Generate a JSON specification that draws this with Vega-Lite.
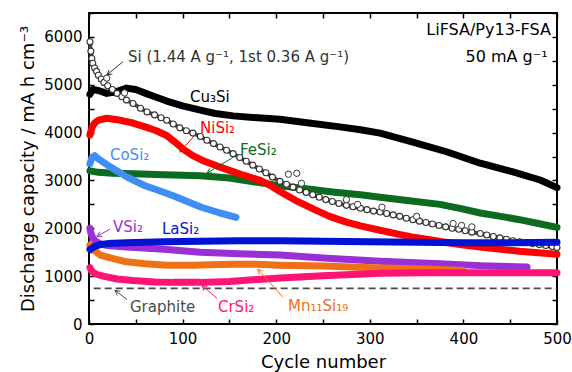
{
  "$schema": "https://vega.github.io/schema/vega-lite/v6.json",
  "width": 468,
  "height": 311,
  "autosize": {"type": "none"},
  "padding": {"left": 89, "top": 13, "right": 15, "bottom": 48},
  "background": "white",
  "config": {
    "view": {"stroke": "black", "strokeWidth": 2},
    "axis": {
      "grid": false, "domain": false, "tickColor": "black", "tickWidth": 1.5, "tickSize": -5, "labelFlush": false,
      "labelFont": "DejaVu Sans", "labelFontSize": 15, "labelColor": "black",
      "titleFont": "DejaVu Sans", "titleFontSize": 18, "titleFontWeight": "normal", "titleColor": "black"
    },
    "text": {"font": "DejaVu Sans"}
  },
  "datasets": {
    "curves": [
      {"series": "Cu₃Si", "cycle": 1, "capacity": 4800},
      {"series": "Cu₃Si", "cycle": 4, "capacity": 4900},
      {"series": "Cu₃Si", "cycle": 10, "capacity": 4880},
      {"series": "Cu₃Si", "cycle": 19, "capacity": 4820},
      {"series": "Cu₃Si", "cycle": 28, "capacity": 4850},
      {"series": "Cu₃Si", "cycle": 40, "capacity": 4930},
      {"series": "Cu₃Si", "cycle": 50, "capacity": 4900},
      {"series": "Cu₃Si", "cycle": 62, "capacity": 4810},
      {"series": "Cu₃Si", "cycle": 72, "capacity": 4740},
      {"series": "Cu₃Si", "cycle": 83, "capacity": 4660},
      {"series": "Cu₃Si", "cycle": 100, "capacity": 4560},
      {"series": "Cu₃Si", "cycle": 119, "capacity": 4470},
      {"series": "Cu₃Si", "cycle": 135, "capacity": 4400},
      {"series": "Cu₃Si", "cycle": 154, "capacity": 4350},
      {"series": "Cu₃Si", "cycle": 180, "capacity": 4310},
      {"series": "Cu₃Si", "cycle": 204, "capacity": 4280},
      {"series": "Cu₃Si", "cycle": 235, "capacity": 4200},
      {"series": "Cu₃Si", "cycle": 268, "capacity": 4120},
      {"series": "Cu₃Si", "cycle": 290, "capacity": 4060},
      {"series": "Cu₃Si", "cycle": 311, "capacity": 3990},
      {"series": "Cu₃Si", "cycle": 346, "capacity": 3800},
      {"series": "Cu₃Si", "cycle": 382, "capacity": 3600},
      {"series": "Cu₃Si", "cycle": 418, "capacity": 3360},
      {"series": "Cu₃Si", "cycle": 453, "capacity": 3180},
      {"series": "Cu₃Si", "cycle": 482, "capacity": 3010},
      {"series": "Cu₃Si", "cycle": 500, "capacity": 2850},

      {"series": "FeSi₂", "cycle": 1, "capacity": 3200},
      {"series": "FeSi₂", "cycle": 10, "capacity": 3170},
      {"series": "FeSi₂", "cycle": 25, "capacity": 3150},
      {"series": "FeSi₂", "cycle": 47, "capacity": 3140},
      {"series": "FeSi₂", "cycle": 80, "capacity": 3120},
      {"series": "FeSi₂", "cycle": 119, "capacity": 3100},
      {"series": "FeSi₂", "cycle": 150, "capacity": 3050},
      {"series": "FeSi₂", "cycle": 180, "capacity": 2960},
      {"series": "FeSi₂", "cycle": 204, "capacity": 2890},
      {"series": "FeSi₂", "cycle": 230, "capacity": 2830},
      {"series": "FeSi₂", "cycle": 260, "capacity": 2760},
      {"series": "FeSi₂", "cycle": 290, "capacity": 2700},
      {"series": "FeSi₂", "cycle": 311, "capacity": 2650},
      {"series": "FeSi₂", "cycle": 340, "capacity": 2580},
      {"series": "FeSi₂", "cycle": 375, "capacity": 2500},
      {"series": "FeSi₂", "cycle": 400, "capacity": 2400},
      {"series": "FeSi₂", "cycle": 418, "capacity": 2320},
      {"series": "FeSi₂", "cycle": 440, "capacity": 2250},
      {"series": "FeSi₂", "cycle": 460, "capacity": 2180},
      {"series": "FeSi₂", "cycle": 480, "capacity": 2100},
      {"series": "FeSi₂", "cycle": 500, "capacity": 2020},

      {"series": "NiSi₂", "cycle": 1, "capacity": 3950},
      {"series": "NiSi₂", "cycle": 3, "capacity": 4100},
      {"series": "NiSi₂", "cycle": 6, "capacity": 4200},
      {"series": "NiSi₂", "cycle": 10, "capacity": 4260},
      {"series": "NiSi₂", "cycle": 19, "capacity": 4300},
      {"series": "NiSi₂", "cycle": 30, "capacity": 4270},
      {"series": "NiSi₂", "cycle": 47, "capacity": 4200},
      {"series": "NiSi₂", "cycle": 60, "capacity": 4120},
      {"series": "NiSi₂", "cycle": 72, "capacity": 4040},
      {"series": "NiSi₂", "cycle": 83, "capacity": 3940},
      {"series": "NiSi₂", "cycle": 92, "capacity": 3800},
      {"series": "NiSi₂", "cycle": 101, "capacity": 3650},
      {"series": "NiSi₂", "cycle": 110, "capacity": 3530},
      {"series": "NiSi₂", "cycle": 120, "capacity": 3430},
      {"series": "NiSi₂", "cycle": 137, "capacity": 3300},
      {"series": "NiSi₂", "cycle": 150, "capacity": 3210},
      {"series": "NiSi₂", "cycle": 165, "capacity": 3110},
      {"series": "NiSi₂", "cycle": 183, "capacity": 3000},
      {"series": "NiSi₂", "cycle": 195, "capacity": 2880},
      {"series": "NiSi₂", "cycle": 204, "capacity": 2770},
      {"series": "NiSi₂", "cycle": 220, "capacity": 2590},
      {"series": "NiSi₂", "cycle": 240, "capacity": 2400},
      {"series": "NiSi₂", "cycle": 257, "capacity": 2250},
      {"series": "NiSi₂", "cycle": 275, "capacity": 2130},
      {"series": "NiSi₂", "cycle": 290, "capacity": 2050},
      {"series": "NiSi₂", "cycle": 311, "capacity": 1960},
      {"series": "NiSi₂", "cycle": 330, "capacity": 1880},
      {"series": "NiSi₂", "cycle": 345, "capacity": 1820},
      {"series": "NiSi₂", "cycle": 364, "capacity": 1760},
      {"series": "NiSi₂", "cycle": 380, "capacity": 1710},
      {"series": "NiSi₂", "cycle": 400, "capacity": 1650},
      {"series": "NiSi₂", "cycle": 418, "capacity": 1610},
      {"series": "NiSi₂", "cycle": 440, "capacity": 1560},
      {"series": "NiSi₂", "cycle": 460, "capacity": 1520},
      {"series": "NiSi₂", "cycle": 480, "capacity": 1490},
      {"series": "NiSi₂", "cycle": 500, "capacity": 1460},

      {"series": "CoSi₂", "cycle": 1, "capacity": 3350},
      {"series": "CoSi₂", "cycle": 3, "capacity": 3470},
      {"series": "CoSi₂", "cycle": 6, "capacity": 3520},
      {"series": "CoSi₂", "cycle": 10, "capacity": 3450},
      {"series": "CoSi₂", "cycle": 20, "capacity": 3320},
      {"series": "CoSi₂", "cycle": 30, "capacity": 3200},
      {"series": "CoSi₂", "cycle": 40, "capacity": 3080},
      {"series": "CoSi₂", "cycle": 50, "capacity": 2980},
      {"series": "CoSi₂", "cycle": 60, "capacity": 2890},
      {"series": "CoSi₂", "cycle": 76, "capacity": 2780},
      {"series": "CoSi₂", "cycle": 90, "capacity": 2680},
      {"series": "CoSi₂", "cycle": 101, "capacity": 2590},
      {"series": "CoSi₂", "cycle": 120, "capacity": 2440},
      {"series": "CoSi₂", "cycle": 140, "capacity": 2320},
      {"series": "CoSi₂", "cycle": 157, "capacity": 2230},

      {"series": "VSi₂", "cycle": 1, "capacity": 2000},
      {"series": "VSi₂", "cycle": 2, "capacity": 1900},
      {"series": "VSi₂", "cycle": 4, "capacity": 1800},
      {"series": "VSi₂", "cycle": 7, "capacity": 1730},
      {"series": "VSi₂", "cycle": 12, "capacity": 1670},
      {"series": "VSi₂", "cycle": 20, "capacity": 1640},
      {"series": "VSi₂", "cycle": 40, "capacity": 1610},
      {"series": "VSi₂", "cycle": 80, "capacity": 1560},
      {"series": "VSi₂", "cycle": 119, "capacity": 1500},
      {"series": "VSi₂", "cycle": 160, "capacity": 1470},
      {"series": "VSi₂", "cycle": 204, "capacity": 1440},
      {"series": "VSi₂", "cycle": 250, "capacity": 1380},
      {"series": "VSi₂", "cycle": 311, "capacity": 1310},
      {"series": "VSi₂", "cycle": 375, "capacity": 1260},
      {"series": "VSi₂", "cycle": 418, "capacity": 1220},
      {"series": "VSi₂", "cycle": 468, "capacity": 1190},

      {"series": "Mn₁₁Si₁₉", "cycle": 1, "capacity": 1650},
      {"series": "Mn₁₁Si₁₉", "cycle": 5, "capacity": 1550},
      {"series": "Mn₁₁Si₁₉", "cycle": 12, "capacity": 1440},
      {"series": "Mn₁₁Si₁₉", "cycle": 25, "capacity": 1370},
      {"series": "Mn₁₁Si₁₉", "cycle": 40, "capacity": 1300},
      {"series": "Mn₁₁Si₁₉", "cycle": 60, "capacity": 1260},
      {"series": "Mn₁₁Si₁₉", "cycle": 83, "capacity": 1230},
      {"series": "Mn₁₁Si₁₉", "cycle": 110, "capacity": 1230},
      {"series": "Mn₁₁Si₁₉", "cycle": 130, "capacity": 1240},
      {"series": "Mn₁₁Si₁₉", "cycle": 154, "capacity": 1250},
      {"series": "Mn₁₁Si₁₉", "cycle": 180, "capacity": 1250},
      {"series": "Mn₁₁Si₁₉", "cycle": 204, "capacity": 1230},
      {"series": "Mn₁₁Si₁₉", "cycle": 250, "capacity": 1210},
      {"series": "Mn₁₁Si₁₉", "cycle": 311, "capacity": 1170},
      {"series": "Mn₁₁Si₁₉", "cycle": 360, "capacity": 1150},
      {"series": "Mn₁₁Si₁₉", "cycle": 400, "capacity": 1120},

      {"series": "CrSi₂", "cycle": 1, "capacity": 1180},
      {"series": "CrSi₂", "cycle": 3, "capacity": 1100},
      {"series": "CrSi₂", "cycle": 8, "capacity": 1040},
      {"series": "CrSi₂", "cycle": 15, "capacity": 1000},
      {"series": "CrSi₂", "cycle": 30, "capacity": 940},
      {"series": "CrSi₂", "cycle": 47, "capacity": 910},
      {"series": "CrSi₂", "cycle": 70, "capacity": 880},
      {"series": "CrSi₂", "cycle": 90, "capacity": 870},
      {"series": "CrSi₂", "cycle": 119, "capacity": 870},
      {"series": "CrSi₂", "cycle": 150, "capacity": 890},
      {"series": "CrSi₂", "cycle": 180, "capacity": 930},
      {"series": "CrSi₂", "cycle": 204, "capacity": 960},
      {"series": "CrSi₂", "cycle": 250, "capacity": 1010},
      {"series": "CrSi₂", "cycle": 311, "capacity": 1060},
      {"series": "CrSi₂", "cycle": 360, "capacity": 1070},
      {"series": "CrSi₂", "cycle": 400, "capacity": 1070},
      {"series": "CrSi₂", "cycle": 450, "capacity": 1070},
      {"series": "CrSi₂", "cycle": 500, "capacity": 1070},

      {"series": "LaSi₂", "cycle": 1, "capacity": 1560},
      {"series": "LaSi₂", "cycle": 3, "capacity": 1580},
      {"series": "LaSi₂", "cycle": 6, "capacity": 1620},
      {"series": "LaSi₂", "cycle": 12, "capacity": 1660},
      {"series": "LaSi₂", "cycle": 20, "capacity": 1680},
      {"series": "LaSi₂", "cycle": 40, "capacity": 1700},
      {"series": "LaSi₂", "cycle": 80, "capacity": 1720},
      {"series": "LaSi₂", "cycle": 119, "capacity": 1730},
      {"series": "LaSi₂", "cycle": 160, "capacity": 1740},
      {"series": "LaSi₂", "cycle": 204, "capacity": 1740},
      {"series": "LaSi₂", "cycle": 250, "capacity": 1730},
      {"series": "LaSi₂", "cycle": 300, "capacity": 1720},
      {"series": "LaSi₂", "cycle": 350, "capacity": 1710},
      {"series": "LaSi₂", "cycle": 400, "capacity": 1700},
      {"series": "LaSi₂", "cycle": 450, "capacity": 1700},
      {"series": "LaSi₂", "cycle": 500, "capacity": 1710}
    ],
    "si": [
      {"series": "Si", "cycle": 1, "capacity": 5900},
      {"series": "Si", "cycle": 2, "capacity": 5700},
      {"series": "Si", "cycle": 3, "capacity": 5550},
      {"series": "Si", "cycle": 4, "capacity": 5450},
      {"series": "Si", "cycle": 6, "capacity": 5350},
      {"series": "Si", "cycle": 8, "capacity": 5280},
      {"series": "Si", "cycle": 10, "capacity": 5200},
      {"series": "Si", "cycle": 13, "capacity": 5120},
      {"series": "Si", "cycle": 16, "capacity": 5050},
      {"series": "Si", "cycle": 20, "capacity": 4980},
      {"series": "Si", "cycle": 25, "capacity": 4900},
      {"series": "Si", "cycle": 30, "capacity": 4820},
      {"series": "Si", "cycle": 35, "capacity": 4750},
      {"series": "Si", "cycle": 40, "capacity": 4680},
      {"series": "Si", "cycle": 47, "capacity": 4610},
      {"series": "Si", "cycle": 55, "capacity": 4510},
      {"series": "Si", "cycle": 62, "capacity": 4430},
      {"series": "Si", "cycle": 70, "capacity": 4370},
      {"series": "Si", "cycle": 77, "capacity": 4310},
      {"series": "Si", "cycle": 83, "capacity": 4260},
      {"series": "Si", "cycle": 90, "capacity": 4180},
      {"series": "Si", "cycle": 97, "capacity": 4100},
      {"series": "Si", "cycle": 104, "capacity": 4040},
      {"series": "Si", "cycle": 111, "capacity": 3990},
      {"series": "Si", "cycle": 119, "capacity": 3920},
      {"series": "Si", "cycle": 126, "capacity": 3840},
      {"series": "Si", "cycle": 133, "capacity": 3770},
      {"series": "Si", "cycle": 140, "capacity": 3700},
      {"series": "Si", "cycle": 147, "capacity": 3630},
      {"series": "Si", "cycle": 154, "capacity": 3560},
      {"series": "Si", "cycle": 161, "capacity": 3480},
      {"series": "Si", "cycle": 168, "capacity": 3400},
      {"series": "Si", "cycle": 175, "capacity": 3320},
      {"series": "Si", "cycle": 182, "capacity": 3240},
      {"series": "Si", "cycle": 189, "capacity": 3160},
      {"series": "Si", "cycle": 196, "capacity": 3070},
      {"series": "Si", "cycle": 204, "capacity": 2980},
      {"series": "Si", "cycle": 211, "capacity": 2920},
      {"series": "Si", "cycle": 218, "capacity": 2860},
      {"series": "Si", "cycle": 225, "capacity": 2800},
      {"series": "Si", "cycle": 232, "capacity": 2750},
      {"series": "Si", "cycle": 239, "capacity": 2700},
      {"series": "Si", "cycle": 246, "capacity": 2650},
      {"series": "Si", "cycle": 253, "capacity": 2600},
      {"series": "Si", "cycle": 260, "capacity": 2560},
      {"series": "Si", "cycle": 267, "capacity": 2520},
      {"series": "Si", "cycle": 275, "capacity": 2480},
      {"series": "Si", "cycle": 282, "capacity": 2450},
      {"series": "Si", "cycle": 290, "capacity": 2420},
      {"series": "Si", "cycle": 297, "capacity": 2390},
      {"series": "Si", "cycle": 304, "capacity": 2360},
      {"series": "Si", "cycle": 311, "capacity": 2340},
      {"series": "Si", "cycle": 318, "capacity": 2310},
      {"series": "Si", "cycle": 325, "capacity": 2280},
      {"series": "Si", "cycle": 332, "capacity": 2250},
      {"series": "Si", "cycle": 339, "capacity": 2210},
      {"series": "Si", "cycle": 346, "capacity": 2180},
      {"series": "Si", "cycle": 353, "capacity": 2150},
      {"series": "Si", "cycle": 360, "capacity": 2120},
      {"series": "Si", "cycle": 367, "capacity": 2090},
      {"series": "Si", "cycle": 374, "capacity": 2060},
      {"series": "Si", "cycle": 381, "capacity": 2030},
      {"series": "Si", "cycle": 388, "capacity": 2000},
      {"series": "Si", "cycle": 395, "capacity": 1980},
      {"series": "Si", "cycle": 402, "capacity": 1950},
      {"series": "Si", "cycle": 409, "capacity": 1920},
      {"series": "Si", "cycle": 418, "capacity": 1890},
      {"series": "Si", "cycle": 425, "capacity": 1860},
      {"series": "Si", "cycle": 432, "capacity": 1830},
      {"series": "Si", "cycle": 439, "capacity": 1800},
      {"series": "Si", "cycle": 446, "capacity": 1770},
      {"series": "Si", "cycle": 453, "capacity": 1740},
      {"series": "Si", "cycle": 460, "capacity": 1720},
      {"series": "Si", "cycle": 467, "capacity": 1700},
      {"series": "Si", "cycle": 474, "capacity": 1680},
      {"series": "Si", "cycle": 481, "capacity": 1660},
      {"series": "Si", "cycle": 488, "capacity": 1640},
      {"series": "Si", "cycle": 495, "capacity": 1620},
      {"series": "Si", "cycle": 500, "capacity": 1600}
    ],
    "siOutliers": [
      {"series": "Si", "cycle": 19, "capacity": 5140},
      {"series": "Si", "cycle": 38, "capacity": 4830},
      {"series": "Si", "cycle": 213, "capacity": 3130},
      {"series": "Si", "cycle": 222, "capacity": 3150},
      {"series": "Si", "cycle": 227, "capacity": 2940},
      {"series": "Si", "cycle": 275, "capacity": 2600},
      {"series": "Si", "cycle": 287, "capacity": 2500},
      {"series": "Si", "cycle": 313, "capacity": 2440},
      {"series": "Si", "cycle": 350, "capacity": 2250},
      {"series": "Si", "cycle": 389, "capacity": 2100},
      {"series": "Si", "cycle": 398, "capacity": 2060},
      {"series": "Si", "cycle": 409, "capacity": 2030}
    ],
    "labels": [
      {"series": "Si", "cycle": 41.7, "capacity": 5586, "text": "Si (1.44 A g⁻¹, 1st 0.36 A g⁻¹)"},
      {"series": "Cu₃Si", "cycle": 107.9, "capacity": 4747, "text": "Cu₃Si"},
      {"series": "NiSi₂", "cycle": 118.6, "capacity": 4098, "text": "NiSi₂"},
      {"series": "FeSi₂", "cycle": 161.3, "capacity": 3637, "text": "FeSi₂"},
      {"series": "CoSi₂", "cycle": 22.4, "capacity": 3532, "text": "CoSi₂"},
      {"series": "VSi₂", "cycle": 25.6, "capacity": 2023, "text": "VSi₂"},
      {"series": "LaSi₂", "cycle": 78, "capacity": 1981, "text": "LaSi₂"},
      {"series": "Graphite", "cycle": 43.8, "capacity": 346, "text": "Graphite"},
      {"series": "CrSi₂", "cycle": 137.8, "capacity": 346, "text": "CrSi₂"},
      {"series": "Mn₁₁Si₁₉", "cycle": 212.6, "capacity": 367, "text": "Mn₁₁Si₁₉"}
    ],
    "notes": [
      {"cycle": 493.5, "capacity": 6152, "text": "LiFSA/Py13-FSA"},
      {"cycle": 490, "capacity": 5586, "text": "50 mA g⁻¹"}
    ],
    "arrows": [
      {"series": "Si", "cycle": 36.3, "capacity": 5481, "cycle2": 19.2, "capacity2": 5209},
      {"series": "NiSi₂", "cycle": 113.2, "capacity": 3951, "cycle2": 97.2, "capacity2": 3595},
      {"series": "FeSi₂", "cycle": 158.1, "capacity": 3532, "cycle2": 126.1, "capacity2": 3154},
      {"series": "VSi₂", "cycle": 22.4, "capacity": 1981, "cycle2": 8.5, "capacity2": 1834},
      {"series": "Graphite", "cycle": 40.6, "capacity": 514, "cycle2": 27.8, "capacity2": 702},
      {"series": "CrSi₂", "cycle": 136.8, "capacity": 535, "cycle2": 120.7, "capacity2": 807},
      {"series": "Mn₁₁Si₁₉", "cycle": 207.3, "capacity": 556, "cycle2": 180.6, "capacity2": 1142}
    ],
    "graphite": [
      {"series": "Graphite", "cycle": 5, "cycle2": 500, "capacity": 744}
    ]
  },
  "resolve": {"axis": {"x": "independent", "y": "independent"}},
  "layer": [
    {
      "data": {"name": "graphite"},
      "mark": {"type": "rule", "strokeDash": [7, 4], "strokeWidth": 1.6},
      "encoding": {
        "x": {"field": "cycle", "type": "quantitative", "axis": null, "scale": {"domain": [0, 500], "nice": false, "zero": false}},
        "x2": {"field": "cycle2"},
        "y": {"field": "capacity", "type": "quantitative", "axis": null, "scale": {"domain": [0, 6500], "nice": false}},
        "color": {"field": "series", "type": "nominal", "legend": null,
          "scale": {
            "domain": ["Cu₃Si", "NiSi₂", "FeSi₂", "CoSi₂", "LaSi₂", "VSi₂", "Mn₁₁Si₁₉", "CrSi₂", "Si", "Graphite"],
            "range": ["#000000", "#ff0000", "#0b6b1e", "#3f8ef5", "#0012d2", "#9a2fd6", "#f07018", "#ff1475", "#333333", "#4a4a4a"]
          }}
      }
    },
    {
      "data": {"name": "curves"},
      "transform": [{"filter": "datum.series != 'LaSi₂'"}],
      "mark": {"type": "line", "strokeWidth": 7, "strokeCap": "round", "strokeJoin": "round"},
      "encoding": {
        "x": {"field": "cycle", "type": "quantitative", "title": "Cycle number",
          "axis": {"orient": "bottom", "values": [0, 50, 100, 150, 200, 250, 300, 350, 400, 450, 500],
            "labelExpr": "datum.value % 100 == 0 ? datum.label : ''", "labelPadding": 12, "titlePadding": 7}},
        "y": {"field": "capacity", "type": "quantitative", "title": "Discharge capacity / mA h cm⁻³",
          "axis": {"orient": "left", "values": [0, 500, 1000, 1500, 2000, 2500, 3000, 3500, 4000, 4500, 5000, 5500, 6000, 6500],
            "labelExpr": "datum.value % 1000 == 0 ? datum.label : ''", "format": "d", "labelPadding": 12, "titlePadding": 6}},
        "color": {"field": "series", "type": "nominal", "legend": null}
      }
    },
    {
      "data": {"name": "si"},
      "mark": {"type": "line", "strokeWidth": 4, "color": "#4a4a4a"},
      "encoding": {
        "x": {"field": "cycle", "type": "quantitative",
          "axis": {"orient": "top", "values": [0, 50, 100, 150, 200, 250, 300, 350, 400, 450, 500], "labels": false, "title": null}},
        "y": {"field": "capacity", "type": "quantitative",
          "axis": {"orient": "right", "values": [0, 500, 1000, 1500, 2000, 2500, 3000, 3500, 4000, 4500, 5000, 5500, 6000, 6500], "labels": false, "title": null}}
      }
    },
    {
      "data": {"name": "si"},
      "mark": {"type": "point", "filled": false, "fill": "white", "fillOpacity": 1, "stroke": "#333333", "strokeWidth": 1.1, "size": 36, "opacity": 1},
      "encoding": {
        "x": {"field": "cycle", "type": "quantitative", "axis": null},
        "y": {"field": "capacity", "type": "quantitative", "axis": null}
      }
    },
    {
      "data": {"name": "siOutliers"},
      "mark": {"type": "point", "filled": false, "fill": "white", "fillOpacity": 1, "stroke": "#333333", "strokeWidth": 1, "size": 40, "opacity": 1},
      "encoding": {
        "x": {"field": "cycle", "type": "quantitative", "axis": null},
        "y": {"field": "capacity", "type": "quantitative", "axis": null}
      }
    },
    {
      "data": {"name": "curves"},
      "transform": [{"filter": "datum.series == 'LaSi₂'"}],
      "mark": {"type": "line", "strokeWidth": 7, "strokeCap": "round", "strokeJoin": "round"},
      "encoding": {
        "x": {"field": "cycle", "type": "quantitative", "axis": null},
        "y": {"field": "capacity", "type": "quantitative", "axis": null},
        "color": {"field": "series", "type": "nominal", "legend": null}
      }
    },
    {
      "data": {"name": "arrows"},
      "mark": {"type": "rule", "strokeWidth": 1},
      "encoding": {
        "x": {"field": "cycle", "type": "quantitative", "axis": null},
        "x2": {"field": "cycle2"},
        "y": {"field": "capacity", "type": "quantitative", "axis": null},
        "y2": {"field": "capacity2"},
        "color": {"field": "series", "type": "nominal", "legend": null}
      }
    },
    {
      "data": {"name": "arrows"},
      "mark": {"type": "point", "shape": "M -0.55 1 L 0 0 L 0.55 1", "filled": false, "strokeWidth": 1, "size": 90, "opacity": 1},
      "encoding": {
        "x": {"field": "cycle2", "type": "quantitative", "axis": null},
        "y": {"field": "capacity2", "type": "quantitative", "axis": null},
        "color": {"field": "series", "type": "nominal", "legend": null},
        "angle": {"field": "series", "type": "nominal", "legend": null,
          "scale": {"type": "ordinal", "domain": ["Si", "NiSi₂", "FeSi₂", "VSi₂", "Graphite", "CrSi₂", "Mn₁₁Si₁₉"],
            "range": [233, 221, 239, 242, 307, 311, 318]}}
      }
    },
    {
      "data": {"name": "labels"},
      "mark": {"type": "text", "align": "left", "baseline": "middle", "fontSize": 15},
      "encoding": {
        "x": {"field": "cycle", "type": "quantitative", "axis": null},
        "y": {"field": "capacity", "type": "quantitative", "axis": null},
        "text": {"field": "text"},
        "color": {"field": "series", "type": "nominal", "legend": null}
      }
    },
    {
      "data": {"name": "notes"},
      "mark": {"type": "text", "align": "right", "baseline": "middle", "fontSize": 16, "color": "black"},
      "encoding": {
        "x": {"field": "cycle", "type": "quantitative", "axis": null},
        "y": {"field": "capacity", "type": "quantitative", "axis": null},
        "text": {"field": "text"}
      }
    }
  ]
}
